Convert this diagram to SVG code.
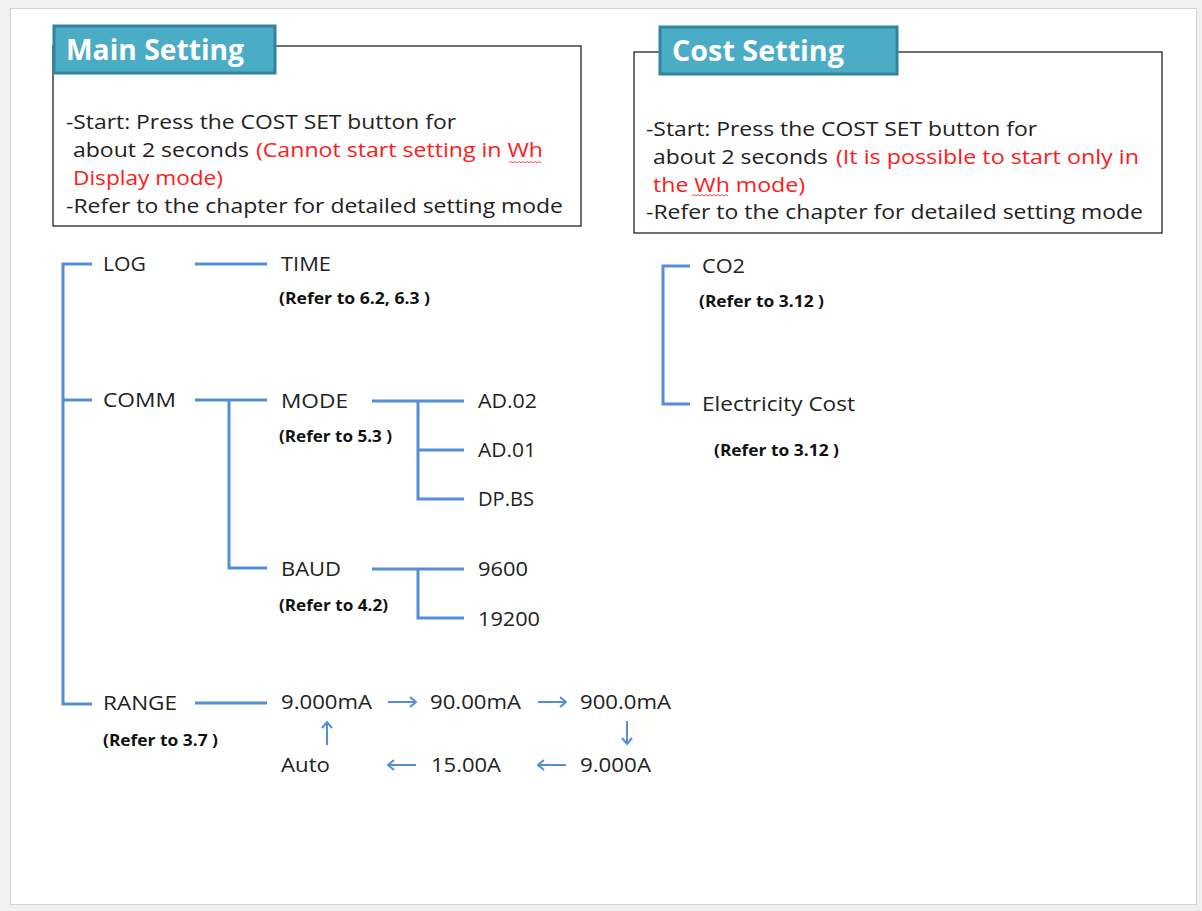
<svg xmlns="http://www.w3.org/2000/svg" width="1202" height="911" viewBox="0 0 1202 911">
<style>
.t{font-family:"Open Sans","Noto Sans","Liberation Sans",sans-serif;font-size:20px;fill:#222}
.r{fill:#ff1a1a}
.b{font-family:"Open Sans","Noto Sans","Liberation Sans",sans-serif;font-size:15.5px;font-weight:bold;fill:#111}
.h{font-family:"Open Sans","Noto Sans","Liberation Sans",sans-serif;font-size:28px;font-weight:bold;fill:#fff}
.ln{stroke:#558ed5;stroke-width:3;fill:none}
.ar{stroke:#558ed5;stroke-width:2;fill:none}
.box{fill:#fff;stroke:#222;stroke-width:1.3}
.tab{fill:#4bacc6;stroke:#31849b;stroke-width:3}
.wv{stroke:#ff1a1a;stroke-width:0.8;fill:none}
</style>
<defs>
<marker id="ah2" viewBox="0 0 12 12" refX="11" refY="6" markerWidth="12" markerHeight="12" orient="auto" markerUnits="userSpaceOnUse">
<path d="M5,1 L11,6 L5,11" stroke="#558ed5" stroke-width="2" fill="none"/>
</marker>
</defs>
<rect x="0" y="0" width="1202" height="911" fill="#f0f0f0"/>
<rect x="10.5" y="8.5" width="1186" height="896" fill="#fff" stroke="#d4d4d4" stroke-width="1"/>

<g id="main-setting">
<rect class="box" x="53" y="46" width="528" height="180"/>
<rect class="tab" x="54" y="26" width="221" height="47"/>
<text class="h" x="66" y="60" textLength="178" lengthAdjust="spacingAndGlyphs">Main Setting</text>
<text class="t" x="66" y="129" textLength="390" lengthAdjust="spacingAndGlyphs">-Start: Press the COST SET button for</text>
<text class="t" x="73" y="157" textLength="176" lengthAdjust="spacingAndGlyphs">about 2 seconds</text>
<text class="t r" x="256" y="157" textLength="287" lengthAdjust="spacingAndGlyphs">(Cannot start setting in Wh</text>
<text class="t r" x="73" y="185" textLength="150" lengthAdjust="spacingAndGlyphs">Display mode)</text>
<text class="t" x="66" y="213" textLength="497" lengthAdjust="spacingAndGlyphs">-Refer to the chapter for detailed setting mode</text>
<path class="wv" d="M509,163 l2,-1.5 l2,1.5 l2,-1.5 l2,1.5 l2,-1.5 l2,1.5 l2,-1.5 l2,1.5 l2,-1.5 l2,1.5 l2,-1.5 l2,1.5 l2,-1.5 l2,1.5 l2,-1.5 l2,1.5"/>
</g>

<g id="cost-setting">
<rect class="box" x="634" y="52" width="528" height="181"/>
<rect class="tab" x="660" y="27" width="237" height="47"/>
<text class="h" x="672" y="61" textLength="172" lengthAdjust="spacingAndGlyphs">Cost Setting</text>
<text class="t" x="646" y="136" textLength="391" lengthAdjust="spacingAndGlyphs">-Start: Press the COST SET button for</text>
<text class="t" x="653" y="164" textLength="175" lengthAdjust="spacingAndGlyphs">about 2 seconds</text>
<text class="t r" x="836" y="164" textLength="303" lengthAdjust="spacingAndGlyphs">(It is possible to start only in</text>
<text class="t r" x="653" y="192" textLength="152" lengthAdjust="spacingAndGlyphs">the Wh mode)</text>
<text class="t" x="646" y="219" textLength="497" lengthAdjust="spacingAndGlyphs">-Refer to the chapter for detailed setting mode</text>
<path class="wv" d="M692,196 l2,-1.5 l2,1.5 l2,-1.5 l2,1.5 l2,-1.5 l2,1.5 l2,-1.5 l2,1.5 l2,-1.5 l2,1.5 l2,-1.5 l2,1.5 l2,-1.5 l2,1.5 l2,-1.5 l2,1.5 l2,-1.5 l2,1.5"/>
</g>

<g id="connectors">
<path class="ln" d="M92,264 H63 V704 H92"/>
<path class="ln" d="M63,400 H92"/>
<path class="ln" d="M195,264 H267"/>
<path class="ln" d="M195,400 H267 M229,400 V568 H267"/>
<path class="ln" d="M372,401 H464 M418,401 V499 H464 M418,450 H464"/>
<path class="ln" d="M372,569 H464 M418,569 V618 H464"/>
<path class="ln" d="M195,703 H267"/>
<path class="ln" d="M690,266 H663 V404 H690"/>
<path class="ar" marker-end="url(#ah2)" d="M388,702 H416"/>
<path class="ar" marker-end="url(#ah2)" d="M538,702 H566"/>
<path class="ar" marker-end="url(#ah2)" d="M627,721 V744"/>
<path class="ar" marker-end="url(#ah2)" d="M566,765 H538"/>
<path class="ar" marker-end="url(#ah2)" d="M416,765 H388"/>
<path class="ar" marker-end="url(#ah2)" d="M327,745 V722"/>
</g>

<g id="log"><text class="t" x="103" y="271" textLength="43" lengthAdjust="spacingAndGlyphs">LOG</text></g>
<g id="time"><text class="t" x="281" y="271" textLength="50" lengthAdjust="spacingAndGlyphs">TIME</text><text class="b" x="279" y="304" textLength="151" lengthAdjust="spacingAndGlyphs">(Refer to 6.2, 6.3 )</text></g>
<g id="comm"><text class="t" x="103" y="407" textLength="73" lengthAdjust="spacingAndGlyphs">COMM</text></g>
<g id="mode"><text class="t" x="281" y="408" textLength="67" lengthAdjust="spacingAndGlyphs">MODE</text><text class="b" x="279" y="442" textLength="113" lengthAdjust="spacingAndGlyphs">(Refer to 5.3 )</text></g>
<g id="ad02"><text class="t" x="478" y="408" textLength="59" lengthAdjust="spacingAndGlyphs">AD.02</text></g>
<g id="ad01"><text class="t" x="478" y="457" textLength="58" lengthAdjust="spacingAndGlyphs">AD.01</text></g>
<g id="dpbs"><text class="t" x="478" y="506" textLength="56" lengthAdjust="spacingAndGlyphs">DP.BS</text></g>
<g id="baud"><text class="t" x="281" y="576" textLength="60" lengthAdjust="spacingAndGlyphs">BAUD</text><text class="b" x="279" y="611" textLength="109" lengthAdjust="spacingAndGlyphs">(Refer to 4.2)</text></g>
<g id="b9600"><text class="t" x="478" y="576" textLength="50" lengthAdjust="spacingAndGlyphs">9600</text></g>
<g id="b19200"><text class="t" x="478" y="626" textLength="62" lengthAdjust="spacingAndGlyphs">19200</text></g>
<g id="range"><text class="t" x="103" y="710" textLength="74" lengthAdjust="spacingAndGlyphs">RANGE</text><text class="b" x="103" y="746" textLength="115" lengthAdjust="spacingAndGlyphs">(Refer to 3.7 )</text></g>
<g id="r9ma"><text class="t" x="281" y="709" textLength="91" lengthAdjust="spacingAndGlyphs">9.000mA</text></g>
<g id="r90ma"><text class="t" x="430" y="709" textLength="91" lengthAdjust="spacingAndGlyphs">90.00mA</text></g>
<g id="r900ma"><text class="t" x="580" y="709" textLength="91" lengthAdjust="spacingAndGlyphs">900.0mA</text></g>
<g id="r9a"><text class="t" x="580" y="772" textLength="71" lengthAdjust="spacingAndGlyphs">9.000A</text></g>
<g id="r15a"><text class="t" x="431" y="772" textLength="70" lengthAdjust="spacingAndGlyphs">15.00A</text></g>
<g id="auto"><text class="t" x="281" y="772" textLength="49" lengthAdjust="spacingAndGlyphs">Auto</text></g>
<g id="co2"><text class="t" x="702" y="273" textLength="43" lengthAdjust="spacingAndGlyphs">CO2</text><text class="b" x="699" y="307" textLength="125" lengthAdjust="spacingAndGlyphs">(Refer to 3.12 )</text></g>
<g id="elec"><text class="t" x="702" y="411" textLength="153" lengthAdjust="spacingAndGlyphs">Electricity Cost</text><text class="b" x="714" y="456" textLength="125" lengthAdjust="spacingAndGlyphs">(Refer to 3.12 )</text></g>
</svg>
